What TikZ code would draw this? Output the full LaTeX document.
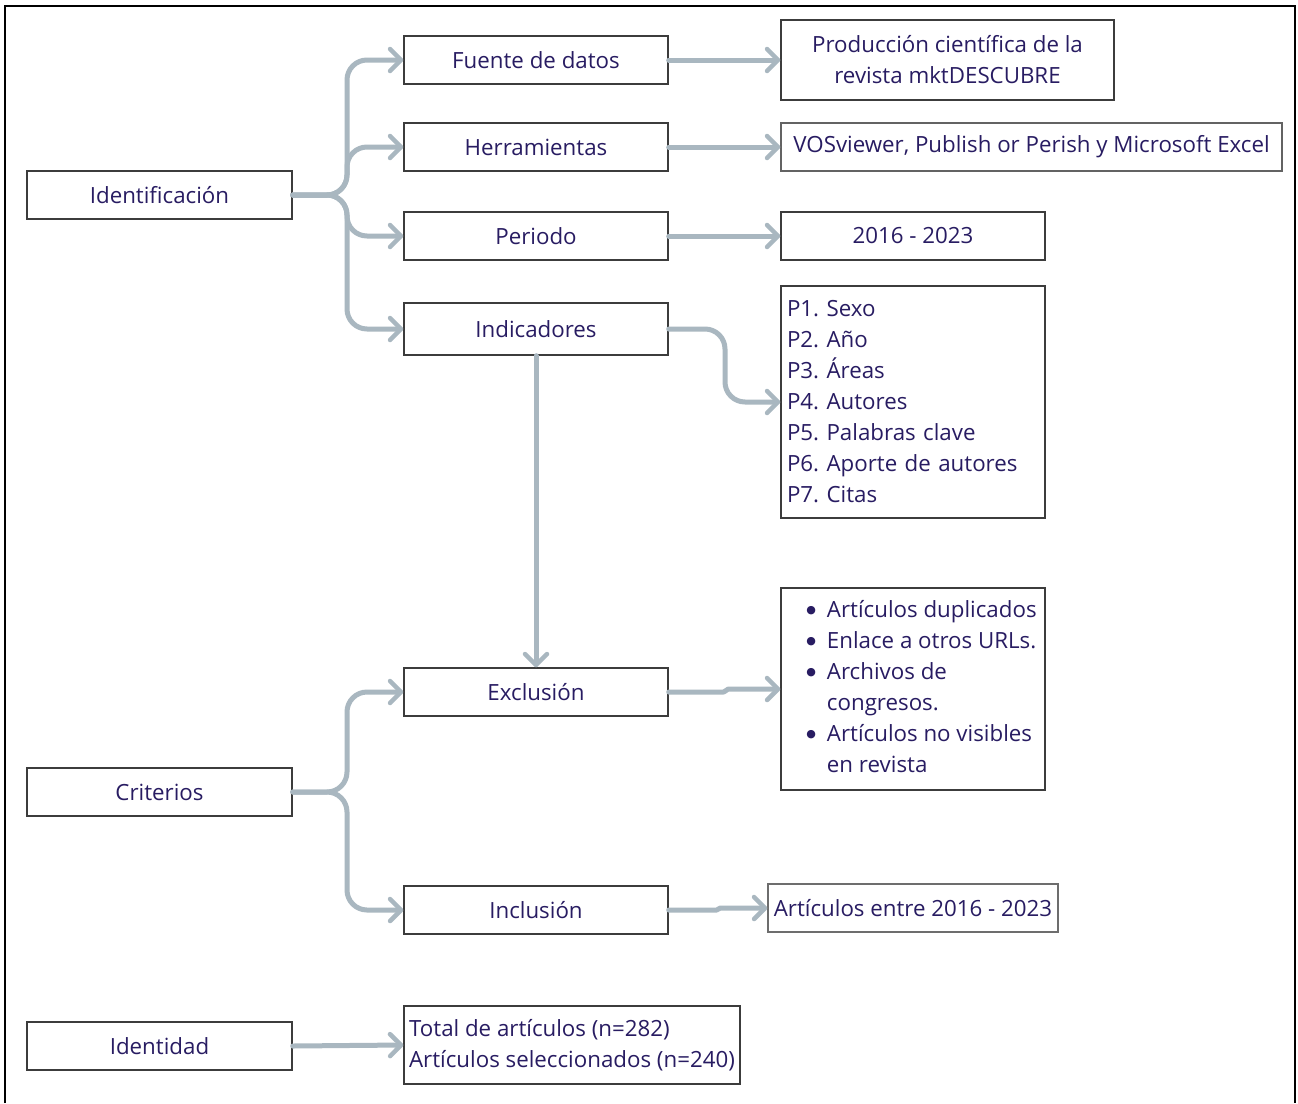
\documentclass[tikz,border=0pt]{standalone}
\usepackage{fontspec}
\setmainfont{Open Sans}
\newfontfamily\dvfont{DejaVu Sans}
\usetikzlibrary{arrows.meta}
\definecolor{txt}{RGB}{40,28,98}
\definecolor{arr}{RGB}{169,183,192}
\definecolor{bord}{RGB}{60,60,60}
\newcommand{\bigbul}{{\dvfont\fontsize{11}{11}\selectfont\raisebox{4.2pt}{●}}}
\frenchspacing
\begin{document}
\begin{tikzpicture}[x=1pt,y=-1pt,
  box/.style={draw=bord,line width=1.4pt,fill=white,text=txt,inner sep=0pt,align=center,
    font=\fontsize{22.3}{31}\selectfont,minimum height=48pt},
  listbox/.style={box,align=left,inner xsep=6pt,inner ysep=0pt},
  conn/.style={draw=arr,line width=5pt,line cap=round,line join=round,rounded corners=20pt,
    -{Straight Barb[length=11pt,width=22pt,line width=4.5pt,round]}},
  plain/.style={draw=arr,line width=5pt,line cap=round,line join=round,
    -{Straight Barb[length=11pt,width=22pt,line width=4.5pt,round]}}]
\useasboundingbox (0,0) rectangle (1298,1103);
\fill[white] (0,0) rectangle (1298,1103);
\draw[line width=2pt,black] (5,1103) -- (5,6) -- (1295,6) -- (1295,1103);

% left column
\node[box,minimum width=265pt] (id) at (159.5,195) {Identificación};
\node[box,minimum width=265pt] (crit) at (159.5,792) {Criterios};
\node[box,minimum width=265pt] (ident) at (159.5,1046) {Identidad};

% middle column
\node[box,minimum width=264pt] (fuente) at (536,60) {Fuente de datos};
\node[box,minimum width=264pt] (herr) at (536,147) {Herramientas};
\node[box,minimum width=264pt] (per) at (536,236) {Periodo};
\node[box,minimum width=264pt,minimum height=52pt] (ind) at (536,329) {Indicadores};
\node[box,minimum width=264pt] (excl) at (536,692) {Exclusión};
\node[box,minimum width=264pt] (incl) at (536,910) {Inclusión};

% right column
\node[box,minimum width=333pt,minimum height=80pt] (prod) at (947.5,60) {Producción científica de la\\revista mktDESCUBRE};
\node[box,minimum width=501pt,draw=bord!80] (vos) at (1031.5,147) {VOSviewer, Publish or Perish y Microsoft Excel};
\node[box,minimum width=264pt] (years) at (913,236) {2016 - 2023};
\node[listbox,text width=252pt,minimum height=232pt] (plist) at (913,402)
  {P1. Sexo\\P2. Año\\P3. Áreas\\P4. Autores\\P5. Palabras clave\\P6. Aporte de autores\\P7. Citas};
\node[listbox,inner xsep=0pt,minimum width=264pt,minimum height=202pt] (excllist) at (913,689)
  {\begin{tabular}{@{\hspace{19pt}}c@{\hspace{11pt}}l@{\hspace{2pt}}}
   \bigbul & Artículos duplicados\\
   \bigbul & Enlace a otros URLs.\\
   \bigbul & Archivos de\\
               & congresos.\\
   \bigbul & Artículos no visibles\\
               & en revista
   \end{tabular}};
\node[box,minimum width=290pt,draw=bord!75] (inc2) at (913,908) {Artículos entre 2016 - 2023};
\node[listbox,inner xsep=3pt,minimum width=336pt,minimum height=78pt] (total) at (572,1045)
  {Total de artículos (n=282)\\Artículos seleccionados (n=240)};

% junctions
\coordinate (j1) at (347,195);
\coordinate (j2) at (347,792);
\coordinate (j3) at (725,329);

% connectors
\draw[conn] (id.east) -- (j1) |- (fuente.west);
\draw[conn] (id.east) -- (j1) |- (herr.west);
\draw[conn] (id.east) -- (j1) |- (per.west);
\draw[conn] (id.east) -- (j1) |- (ind.west);
\draw[plain] (fuente.east) -- (prod.west |- fuente.east);
\draw[plain] (herr.east) -- (vos.west);
\draw[plain] (per.east) -- (years.west);
\draw[conn] (ind.east) -- (j3) |- (plist.west);
\draw[plain] (ind.south) -- (excl.north);
\draw[conn] (crit.east) -- (j2) |- (excl.west);
\draw[conn] (crit.east) -- (j2) |- (incl.west);
\draw[plain] (excl.east) -- ++(55,0) -- ([xshift=-52pt]excllist.west) -- (excllist.west);
\draw[plain] (incl.east) -- ++(48,0) -- ([xshift=-47pt]inc2.west) -- (inc2.west);
\draw[plain] (ident.east) -- (total.west);
\end{tikzpicture}
\end{document}
